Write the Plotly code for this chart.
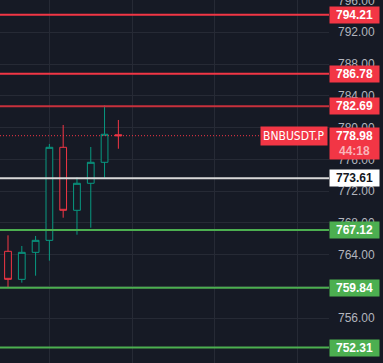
import plotly.graph_objects as go

# Candle data (index positions, hourly candles)
idx = [0, 1, 2, 3, 4, 5, 6, 7, 8]
opens = [764.43, 760.90, 764.30, 765.81, 777.52, 769.59, 772.99, 775.63, 779.10]
highs = [766.44, 765.10, 766.36, 777.94, 780.33, 773.74, 777.56, 782.81, 780.96]
lows = [759.90, 760.48, 761.36, 763.25, 768.66, 766.52, 767.40, 773.70, 777.34]
closes = [760.90, 764.30, 765.81, 777.52, 769.59, 772.99, 775.63, 779.16, 778.98]

# Horizontal levels
level_prices = [794.21, 786.78, 782.69, 773.61, 767.12, 759.84, 752.31]
level_colors = ["#f23645", "#f23645", "#c8313c", "#d8d8d8", "#4caf50", "#4caf50", "#4caf50"]
label_bg = ["#f23645", "#f23645", "#f23645", "#ffffff", "#4caf50", "#4caf50", "#4caf50"]
label_fg = ["#ffffff", "#ffffff", "#ffffff", "#131722", "#ffffff", "#ffffff", "#ffffff"]

last_price = 778.98
symbol = "BNBUSDT.P"
countdown = "44:18"

y_ticks = [756, 760, 764, 768, 772, 776, 780, 784, 788, 792, 796]
y_tick_text = [f"{v:.2f}" for v in y_ticks]
x_grid = [3, 9, 15, 21]

BG = "#161a25"
GRID = "#262a35"
GREEN = "#089981"
RED = "#f23645"
FONT = "Liberation Sans, Arial, sans-serif"

fig = go.Figure()
fig.add_trace(go.Candlestick(
    x=idx, open=opens, high=highs, low=lows, close=closes,
    increasing=dict(line=dict(color=GREEN, width=1), fillcolor=BG),
    decreasing=dict(line=dict(color=RED, width=1), fillcolor=BG),
    whiskerwidth=0, showlegend=False, hoverinfo="skip",
))

shapes = []
for p, c in zip(level_prices, level_colors):
    shapes.append(dict(type="line", xref="paper", x0=0, x1=1, yref="y", y0=p, y1=p,
                       line=dict(color=c, width=2), layer="above"))
shapes.append(dict(type="line", xref="paper", x0=0, x1=261 / 329, yref="y",
                   y0=last_price, y1=last_price,
                   line=dict(color=RED, width=1, dash="1px,2px"), layer="above"))

annotations = []
for p, bg, fg in zip(level_prices, label_bg, label_fg):
    annotations.append(dict(
        xref="paper", x=1, xanchor="left", yref="y", y=p, yanchor="middle",
        text=f"<b>{p:.2f}</b>", showarrow=False,
        font=dict(family=FONT, size=12, color=fg),
        bgcolor=bg, width=47, height=14, borderpad=1, align="center",
    ))
annotations.append(dict(
    xref="paper", x=1, xanchor="left", yref="y", y=last_price, yanchor="top", yshift=8.5,
    text=f"<b>{last_price:.2f}</b><br><span style='color:#f9b3b9'><b>{countdown}</b></span>",
    showarrow=False, font=dict(family=FONT, size=12, color="#ffffff"),
    bgcolor=RED, width=47, height=29, borderpad=1, align="center",
))
annotations.append(dict(
    xref="paper", x=328 / 329, xanchor="right", yref="y", y=last_price, yanchor="middle",
    text=symbol, showarrow=False,
    font=dict(family="Liberation Sans Narrow, DejaVu Sans Condensed, sans-serif", size=12, color="#ffffff"),
    bgcolor=RED, borderpad=2,
))

fig.update_layout(
    width=383, height=363,
    margin=dict(l=0, r=54, t=0, b=0, autoexpand=False),
    paper_bgcolor=BG, plot_bgcolor=BG,
    shapes=shapes, annotations=annotations,
    xaxis=dict(range=[-0.58, 23.27], tickvals=x_grid, showticklabels=False,
               showgrid=True, gridcolor=GRID, gridwidth=1, zeroline=False,
               rangeslider=dict(visible=False), fixedrange=True, showline=False,
               automargin=False),
    yaxis=dict(range=[750.37, 796.06], side="right", tickvals=y_ticks, ticktext=y_tick_text,
               showgrid=True, gridcolor=GRID, gridwidth=1, zeroline=False,
               tickfont=dict(family=FONT, size=12, color="#b2b5be"),
               ticks="", ticklabelstandoff=8, ticklabeloverflow="allow",
               showline=False, fixedrange=True, automargin=False),
    font=dict(family=FONT),
)

fig.write_html("out.html", config={"displayModeBar": False},
               post_script="document.body.style.margin='0';document.body.style.background='#161a25';")
